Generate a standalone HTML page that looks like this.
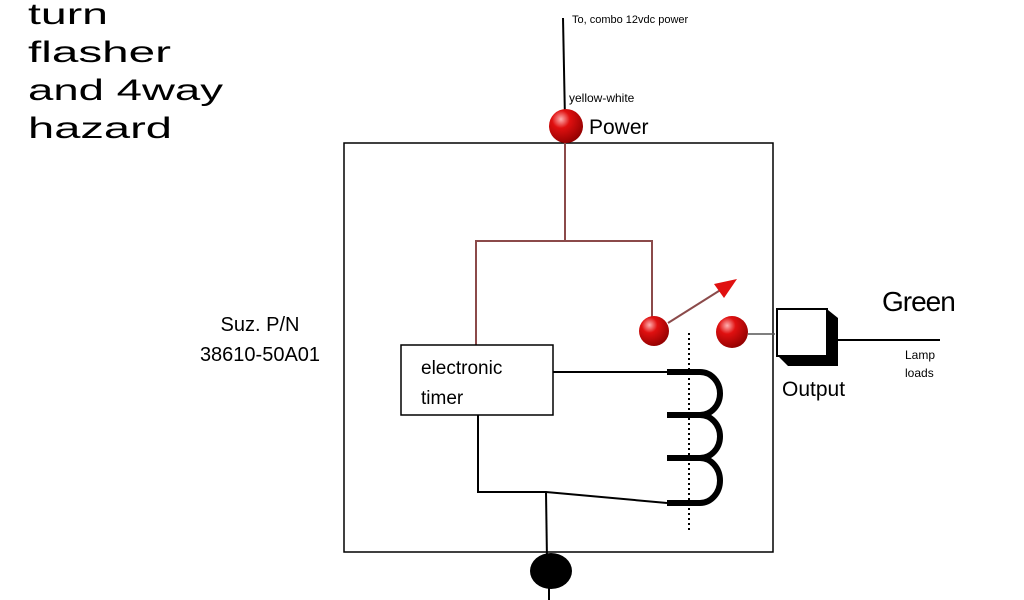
<!DOCTYPE html>
<html><head><style>body{margin:0;background:#fff}svg{display:block}text{font-family:"Liberation Sans",sans-serif}</style></head><body>
<svg width="1024" height="600" viewBox="0 0 1024 600" xmlns="http://www.w3.org/2000/svg">
<defs>
<radialGradient id="rb" cx="0.35" cy="0.3" r="0.75"><stop offset="0" stop-color="#ffb0b0"/><stop offset="0.35" stop-color="#e01010"/><stop offset="1" stop-color="#900000"/></radialGradient>
</defs>
<g fill="#000">
<text x="28" y="24" font-size="30" textLength="80" lengthAdjust="spacingAndGlyphs">turn</text>
<text x="28" y="62" font-size="30" textLength="143" lengthAdjust="spacingAndGlyphs">flasher</text>
<text x="28" y="100" font-size="30" textLength="195" lengthAdjust="spacingAndGlyphs">and 4way</text>
<text x="28" y="138" font-size="30" textLength="144" lengthAdjust="spacingAndGlyphs">hazard</text>
<text x="572" y="23" font-size="11">To, combo 12vdc power</text>
<text x="569" y="102" font-size="12">yellow-white</text>
<text x="589" y="134" font-size="21">Power</text>
<text x="260" y="331" font-size="20" text-anchor="middle">Suz. P/N</text>
<text x="260" y="361" font-size="20" text-anchor="middle">38610-50A01</text>
<text x="882" y="311" font-size="28" letter-spacing="-1">Green</text>
<text x="905" y="359" font-size="12">Lamp</text>
<text x="905" y="377" font-size="12">loads</text>
<text x="782" y="396" font-size="21">Output</text>
</g>
<line x1="563" y1="18" x2="565" y2="120" stroke="#000" stroke-width="2"/>
<rect x="344" y="143" width="429" height="409" fill="none" stroke="#000" stroke-width="1.5"/>
<g stroke="#8b4a4a" stroke-width="2" fill="none">
<polyline points="565,140 565,241"/>
<polyline points="476,345 476,241 652,241 652,318"/>
<line x1="668" y1="323" x2="722" y2="289"/>
</g>
<polygon points="737,279 714,284 724,298" fill="#e01010"/>
<circle cx="566" cy="126" r="17" fill="url(#rb)"/>
<circle cx="654" cy="331" r="15" fill="url(#rb)"/>
<circle cx="732" cy="332" r="16" fill="url(#rb)"/>
<line x1="748" y1="334" x2="775" y2="334" stroke="#555" stroke-width="1.5"/>
<polygon points="778,310 828,310 838,318 838,366 788,366 778,356" fill="#000"/>
<rect x="777" y="309" width="50" height="47" fill="#fff" stroke="#000" stroke-width="2"/>
<line x1="838" y1="340" x2="940" y2="340" stroke="#000" stroke-width="2"/>
<rect x="401" y="345" width="152" height="70" fill="#fff" stroke="#000" stroke-width="1.5"/>
<text x="421" y="374" font-size="19">electronic</text>
<text x="421" y="404" font-size="19">timer</text>
<g stroke="#000" stroke-width="2" fill="none">
<line x1="553" y1="372" x2="667" y2="372"/>
<polyline points="478,415 478,492 546,492 667,503"/>
<line x1="546" y1="492" x2="547" y2="560"/>
<line x1="549" y1="585" x2="549" y2="600"/>
</g>
<g stroke="#000" stroke-width="6" fill="none">
<path d="M667,372 H700 A20,21.5 0 0 1 700,415 H667"/>
<path d="M700,415 A20,21.5 0 0 1 700,458 H667"/>
<path d="M700,458 A20,22.5 0 0 1 700,503 H667"/>
</g>
<line x1="689" y1="333" x2="689" y2="532" stroke="#000" stroke-width="2" stroke-dasharray="2,3"/>
<ellipse cx="551" cy="571" rx="21" ry="18" fill="#000"/>
</svg>
</body></html>
